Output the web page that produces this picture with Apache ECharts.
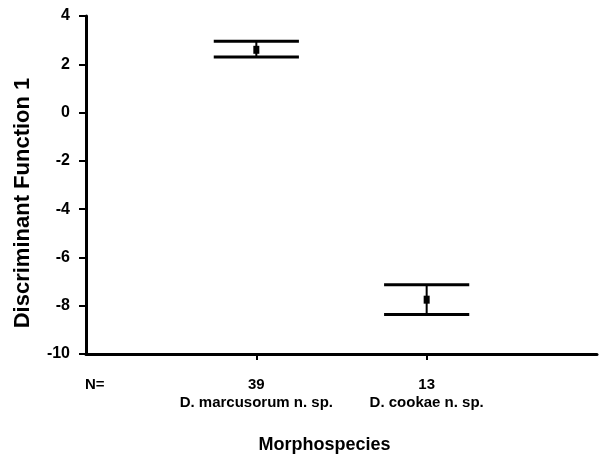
<!DOCTYPE html>
<html>
<head>
<meta charset="utf-8">
<script src="https://cdn.jsdelivr.net/npm/echarts@6/dist/echarts.min.js"></script>
<style>
  html, body { margin: 0; padding: 0; background: #fff; }
  #main { width: 600px; height: 459px; }
</style>
</head>
<body>
<div id="main"></div>
<script>
// groups on the x axis (blank slots at both ends)
const categories = ['', 'D. marcusorum n. sp.', 'D. cookae n. sp.', '']
const counts = ['', '39', '13', '']
// discriminant function 1: mean and 95% CI
const means = [2.6, -7.75]
const lower = [2.3, -8.36]
const upper = [2.95, -7.13]
const yTicks = { min: -10, max: 4, step: 2 }

const font = '"Liberation Sans", Arial, sans-serif'
const chart = echarts.init(document.getElementById('main'))

const barData = means.map((m, i) => [i + 1, m, lower[i], upper[i]])

chart.setOption({
  backgroundColor: '#fff',
  animation: false,
  grid: { left: 86, right: -2, top: 16, bottom: 101, containLabel: false },
  xAxis: {
    type: 'category',
    data: categories,
    boundaryGap: false,
    name: 'Morphospecies',
    nameLocation: 'middle',
    nameGap: 82,
    nameTextStyle: { color: '#000', fontFamily: font, fontWeight: 'bold', fontSize: 18, padding: [0, 34, 0, 0] },
    axisLine: { onZero: false, lineStyle: { color: '#000', width: 3 } },
    axisTick: { length: 6, lineStyle: { color: '#000', width: 2 }, interval: (i) => i === 1 || i === 2 },
    axisLabel: {
      interval: 0,
      margin: 22,
      color: '#000',
      fontFamily: font,
      fontWeight: 'bold',
      fontSize: 15,
      lineHeight: 18,
      formatter: (v, i) => (v ? counts[i] + '\n' + v : '')
    },
    splitLine: { show: false }
  },
  yAxis: {
    type: 'value',
    min: yTicks.min,
    max: yTicks.max,
    interval: yTicks.step,
    name: 'Discriminant Function 1',
    nameLocation: 'middle',
    nameGap: 52,
    nameTextStyle: { color: '#000', fontFamily: font, fontWeight: 'bold', fontSize: 22, padding: [0, 36, 0, 0] },
    axisLine: { show: true, lineStyle: { color: '#000', width: 3 } },
    axisTick: { show: true, length: 7, lineStyle: { color: '#000', width: 2 } },
    axisLabel: { color: '#000', fontFamily: font, fontWeight: 'bold', fontSize: 16, margin: 16 },
    splitLine: { show: false }
  },
  graphic: [{
    type: 'text',
    left: 85,
    top: 377,
    style: { text: 'N=', fill: '#000', font: 'bold 15px ' + font }
  }],
  series: [{
    type: 'custom',
    data: barData,
    renderItem: (params, api) => {
      const x = api.value(0)
      const mid = api.coord([x, api.value(1)])
      const lo = api.coord([x, api.value(2)])
      const hi = api.coord([x, api.value(3)])
      const half = api.size([1, 0])[0] * 0.25
      const line = { stroke: '#000', lineWidth: 3 }
      return {
        type: 'group',
        children: [
          { type: 'line', shape: { x1: lo[0] - half, y1: lo[1], x2: lo[0] + half, y2: lo[1] }, style: line },
          { type: 'line', shape: { x1: hi[0] - half, y1: hi[1], x2: hi[0] + half, y2: hi[1] }, style: line },
          { type: 'line', shape: { x1: lo[0], y1: lo[1], x2: hi[0], y2: hi[1] }, style: { stroke: '#000', lineWidth: 2 } },
          { type: 'rect', shape: { x: mid[0] - 3, y: mid[1] - 4, width: 6, height: 8 }, style: { fill: '#000' } }
        ]
      }
    }
  }]
})
</script>
</body>
</html>
